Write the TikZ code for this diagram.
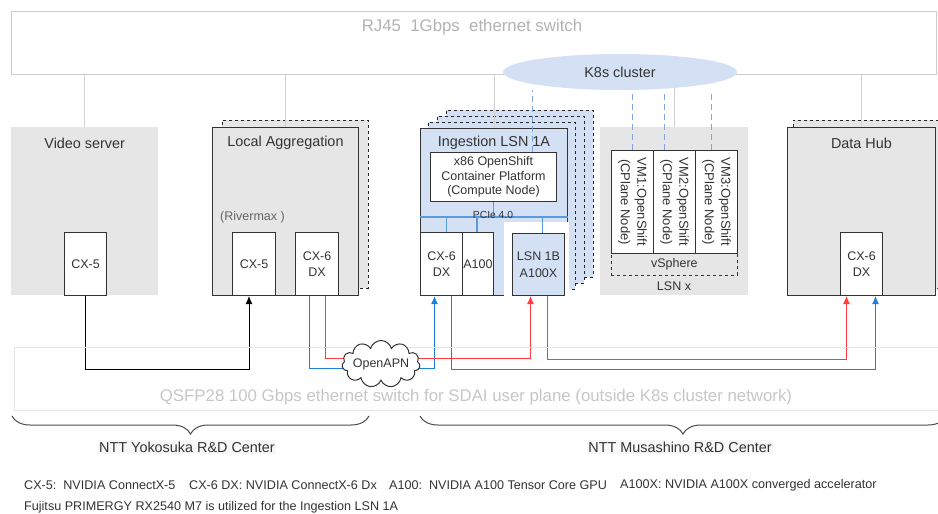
\documentclass[tikz,border=0pt]{standalone}
\usepackage{fontspec}
\setmainfont{Liberation Sans}
\usetikzlibrary{shapes,arrows,arrows.meta,positioning,fit,decorations.pathreplacing}

\definecolor{hostgray}{HTML}{E6E6E6}
\definecolor{paleblue}{HTML}{D4E1F5}
\definecolor{linkblue}{HTML}{1C7FDB}
\definecolor{linkred}{HTML}{FF3B3B}
\definecolor{k8sblue}{HTML}{7EA6E0}
\definecolor{busblue}{HTML}{5A9BE0}
\definecolor{swgray}{HTML}{CCCCCC}
\definecolor{txtgray}{HTML}{B3B3B3}

\newcommand\swfont{\fontsize{16.8}{20}\selectfont}
\newcommand\boxfont{\fontsize{14.4}{17}\selectfont}
\newcommand\nicfont{\fontsize{12.5}{16.5}\selectfont}
\newcommand\legfont{\fontsize{12.6}{15}\selectfont}
\newcommand\pciefont{\fontsize{10.3}{12}\selectfont}

\pgfdeclarelayer{back}
\pgfsetlayers{back,main}

\begin{document}
\begin{tikzpicture}[x=1pt,y=-1pt,>={Latex[length=8pt,width=7pt]},
  every node/.style={align=center,inner sep=0pt,text=black!80},
  host/.style={fill=hostgray,anchor=north west},
  server/.style={host,draw=black!80,line width=1pt},
  ghost/.style={host,draw=black!85,dashed,line width=0.8pt},
  nic/.style={fill=white,draw=black!80,line width=1pt,anchor=north west,minimum height=63pt,font=\nicfont},
  title/.style={font=\boxfont},
  uplink/.style={draw=black!18,line width=1pt},
  k8slink/.style={draw=k8sblue,line width=1.3pt,dash pattern=on 6pt off 4pt},
  bus/.style={draw=busblue,line width=1.3pt},
  blueline/.style={draw=linkblue,line width=1pt},
  redline/.style={draw=linkred,line width=1pt},
  sitebrace/.style={decorate,decoration={brace,mirror,amplitude=18pt},draw=black!70,line width=1pt}]

\useasboundingbox (0,0) rectangle (938,514);
\begin{pgfonlayer}{back}
\fill[white] (0,0) rectangle (938,514);
\end{pgfonlayer}

% switches
\node[draw=swgray,line width=0.8pt,anchor=north west,minimum width=925pt,minimum height=63pt] (rj45) at (11,11) {};
\node[font=\swfont,text=txtgray] (rj45t) at (472,27) {RJ45\ \ 1Gbps\ \ ethernet switch};
\node[draw=black!10,line width=0.8pt,anchor=north west,minimum width=930pt,minimum height=63pt] (qsfp) at (14,347) {};
\node[font=\swfont,text=black!22] (qsfpt) at (476,397) {QSFP28 100 Gbps ethernet switch for SDAI user plane (outside K8s cluster network)};

% Video server
\node[host,minimum width=147pt,minimum height=168pt] (video) at (11,127) {};
\node[title] (videot) at ([yshift=-16pt]video.north) {Video server};
\node[nic,minimum width=42pt] (vcx5) at (64,232) {CX-5};

% Local Aggregation
\node[ghost,minimum width=146pt,minimum height=168pt] (localb) at (222,120) {};
\node[server,minimum width=146pt,minimum height=168pt] (local) at (212,127) {};
\node[title] (localt) at ([yshift=-16pt]local.north) {Local Aggregation};
\node[font=\nicfont,text=black!60,anchor=west] (rivermax) at (220,217) {(Rivermax )};
\node[nic,minimum width=43pt] (lcx5) at (232,232) {CX-5};
\node[nic,minimum width=43pt] (lcx6) at (295,232) {CX-6\\DX};

% Ingestion LSN 1A (stacked)
\foreach \dx/\dy [count=\i] in {26/18,17/12,8/6}
  \node[ghost,fill=paleblue,minimum width=147pt,minimum height=167pt] (ingestb\i) at (420+\dx,128-\dy) {};
\node[server,fill=paleblue,minimum width=147pt,minimum height=167pt] (ingest) at (420,128) {};
\node[title] (ingestt) at ([yshift=-15pt]ingest.north) {Ingestion LSN 1A};
\node[nic,minimum width=126pt,minimum height=49pt,font=\fontsize{12.5}{14.7}\selectfont] (x86) at (430,152) {x86 OpenShift\\Container Platform\\(Compute Node)};
\coordinate (busw) at ([yshift=-89pt]ingest.north west);
\coordinate (buse) at ([yshift=-89pt]ingest.north east);
\draw[bus] (busw) -- (buse);
\draw[bus] (x86.south) -- (x86.south |- busw);
\node[font=\pciefont] (pcie) at (493,215) {PCIe 4.0};
\node[fill=white,anchor=north west,minimum width=65pt,minimum height=74pt] (slot) at (504,222) {};
\node[nic,minimum width=42pt] (icx6) at (420,232) {CX-6\\DX};
\node[nic,minimum width=31pt] (a100) at (462,232) {A100};
\node[nic,fill=paleblue,minimum width=52pt,minimum height=62pt] (lsn1b) at (512,233) {LSN 1B\\A100X};
\draw[bus] ([xshift=5pt]icx6.north) -- ([xshift=5pt]icx6.north |- busw);
\draw[bus] ([xshift=-1pt]a100.north) -- ([xshift=-1pt]a100.north |- busw);
\draw[bus] ([xshift=4pt]lsn1b.north) -- ([xshift=4pt]lsn1b.north |- busw);

% LSN x
\node[host,minimum width=148pt,minimum height=168pt] (lsnx) at (600,127) {};
\foreach \i/\x in {1/611,2/653,3/695} {
  \node[nic,minimum width=42pt,minimum height=103pt] (vm\i) at (\x,150) {};
  \node[font=\fontsize{13}{16.5}\selectfont,rotate=-90] (vmt\i) at (vm\i) {VM\i:OpenShift\\(CPlane Node)};
}
\node[draw=black!80,dashed,line width=0.8pt,anchor=north west,minimum width=126pt,minimum height=22pt,font=\nicfont] (vsphere) at (611,253) {vSphere};
\node[font=\nicfont] (lsnxt) at (674,286) {LSN x};

% Data Hub
\node[ghost,minimum width=148pt,minimum height=168pt] (hubb) at (793,120) {};
\node[server,minimum width=148pt,minimum height=168pt] (hub) at (787,127) {};
\node[title] (hubt) at ([yshift=-16pt]hub.north) {Data Hub};
\node[nic,minimum width=42pt] (dcx6) at (840,232) {CX-6\\DX};

% management links
\foreach \n in {video,local,ingest,lsnx,hub}
  \draw[uplink] (rj45.south -| \n.north) -- (\n.north);

% K8s cluster
\node[ellipse,fill=paleblue,minimum width=234pt,minimum height=36pt,font=\boxfont] (k8s) at (620,72) {K8s cluster};
\draw[k8slink] ([xshift=39pt]x86.north) -- ([xshift=39pt]x86.north |- k8s.south);
\draw[k8slink] (vm1.north) -- (vm1.north |- k8s.south);
\draw[k8slink] ([xshift=-10pt]vm2.north) -- ([xshift=-10pt]vm2.north |- k8s.south);
\draw[k8slink] ([xshift=-5pt]vm3.north) -- ([xshift=-5pt]vm3.north |- k8s.south);

% user plane
\node[cloud,cloud puffs=11,cloud ignores aspect,draw=black!80,fill=white,line width=1pt,minimum width=78pt,minimum height=47pt] (apn) at (381,364) {};
\node[font=\nicfont] (apnt) at (apn) {OpenAPN};

\begin{pgfonlayer}{back}
\draw[->,line width=1pt] (vcx5.south) -- ++(0,73) -| ([xshift=-5pt]lcx5.south);
\draw[blueline] ([xshift=-8pt]lcx6.south) |- ([yshift=-4pt]apn.center);
\draw[blueline,->] ([yshift=-4pt]apn.center) -| ([xshift=-7pt]icx6.south);
\draw[redline] ([xshift=8pt]lcx6.south) |- ([yshift=6pt]apn.center);
\draw[redline,->] ([yshift=6pt]apn.center) -| ([xshift=-8pt]lsn1b.south);
\draw[blueline,->] ([xshift=10pt]icx6.south) -- ++(0,73) -| ([xshift=14pt]dcx6.south);
\draw[redline,->] ([xshift=9pt]lsn1b.south) -- ++(0,63) -| ([xshift=-15pt]dcx6.south);
\end{pgfonlayer}

% sites
\draw[sitebrace] (12,416) -- (369,416);
\draw[sitebrace] (420,416) -- (946,416);
\node[font=\boxfont,fill=black!3,inner sep=1.5pt] (yoko) at (187,447) {NTT Yokosuka R\&D Center};
\node[font=\boxfont,fill=black!3,inner sep=1.5pt] (musa) at (680,447) {NTT Musashino R\&D Center};

% legend
\node[font=\legfont,anchor=west] (leg1) at (24,485) {CX-5:\ \ NVIDIA ConnectX-5};
\node[font=\legfont,anchor=west] (leg2) at (189,485) {CX-6 DX: NVIDIA ConnectX-6 Dx};
\node[font=\legfont,anchor=west] (leg3) at (389,485) {A100:\ \ NVIDIA A100 Tensor Core GPU};
\node[font=\legfont,anchor=west] (leg4) at (620,485) {A100X: NVIDIA A100X converged accelerator};
\node[font=\legfont,anchor=west] (leg5) at (24,507) {Fujitsu PRIMERGY RX2540 M7 is utilized for the Ingestion LSN 1A};

\end{tikzpicture}
\end{document}
